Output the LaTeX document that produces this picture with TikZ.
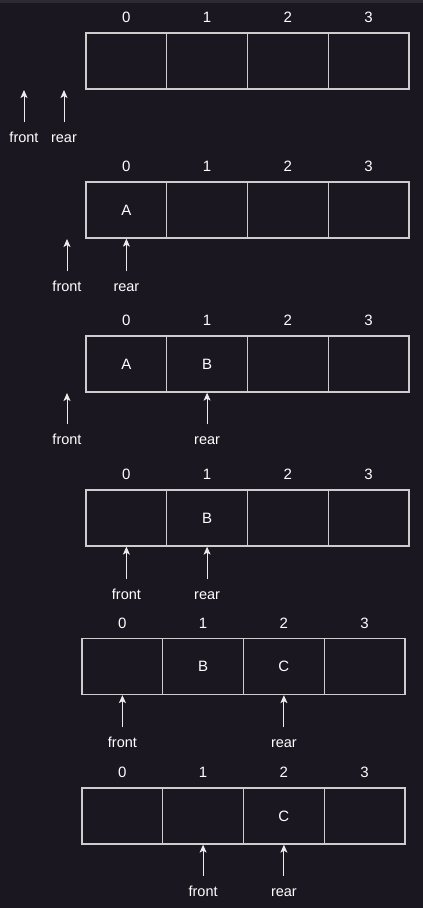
\documentclass[tikz,border=0pt]{standalone}
\usepackage{fontspec}
\setmainfont{Liberation Sans}
\usetikzlibrary{arrows.meta}
\definecolor{bgc}{RGB}{26,23,32}
\definecolor{topc}{RGB}{44,42,50}
\definecolor{linec}{RGB}{205,205,205}
\definecolor{arrc}{RGB}{235,235,235}
\begin{document}
\begin{tikzpicture}[x=1pt,y=-1pt,
  cell/.style={draw=linec,line width=1.3pt,minimum width=80.75pt,minimum height=56pt,inner sep=0pt,text=white,font=\fontsize{15}{15}\selectfont},
  idx/.style={text=white,inner sep=0pt,font=\fontsize{15}{15}\selectfont},
  lbl/.style={text=white,inner sep=0pt,text height=11pt,text depth=4pt,font=\fontsize{14.5}{15}\selectfont},
  arr/.style={draw=arrc,line width=1pt,-{Stealth[length=8pt,width=7pt,inset=2pt]},shorten <=9pt}]
\fill[bgc] (0,0) rectangle (423,908);
\fill[topc] (0,0) rectangle (423,3);
% rows: name / x offset / y center
\foreach \r/\xo/\yc/\a/\b/\c in {1/0/61/{}/{}/{},2/0/210/A/{}/{},3/0/364/A/B/{},4/0/518/{}/B/{},5/-4/666.5/{}/B/C,6/-4/816/{}/{}/C}{
  \node[cell] (c\r0) at (126.4+\xo,\yc) {\a};
  \node[cell] (c\r1) at (207.1+\xo,\yc) {\b};
  \node[cell] (c\r2) at (287.9+\xo,\yc) {\c};
  \node[cell] (c\r3) at (368.6+\xo,\yc) {};
  \foreach \i in {0,1,2,3}{
    \node[idx] (i\r\i) at ([yshift=15pt]c\r\i.north) {\i};
  }
}
% panel 1
\node[lbl] (f1) at (24,139) {front};
\node[lbl] (r1) at (64,139) {rear};
\coordinate (tf1) at (24,90);
\coordinate (tr1) at (64,90);
\draw[arr] (f1.north) -- (tf1);
\draw[arr] (r1.north) -- (tr1);
% panel 2
\node[lbl] (f2) at (67,288) {front};
\node[lbl] (r2) at (126.4,288) {rear};
\coordinate (tf2) at (67,239);
\draw[arr] (f2.north) -- (tf2);
\draw[arr] (r2.north) -- (c20.south);
% panel 3
\node[lbl] (f3) at (67,441) {front};
\node[lbl] (r3) at (207.1,441) {rear};
\coordinate (tf3) at (67,393);
\draw[arr] (f3.north) -- (tf3);
\draw[arr] (r3.north) -- (c31.south);
% panel 4
\node[lbl] (f4) at (126.4,596) {front};
\node[lbl] (r4) at (207.1,596) {rear};
\draw[arr] (f4.north) -- (c40.south);
\draw[arr] (r4.north) -- (c41.south);
% panel 5
\node[lbl] (f5) at (122.4,744) {front};
\node[lbl] (r5) at (283.9,744) {rear};
\draw[arr] (f5.north) -- (c50.south);
\draw[arr] (r5.north) -- (c52.south);
% panel 6
\node[lbl] (f6) at (203.1,893) {front};
\node[lbl] (r6) at (283.9,893) {rear};
\draw[arr] (f6.north) -- (c61.south);
\draw[arr] (r6.north) -- (c62.south);
\useasboundingbox (0,0) rectangle (423,908);
\end{tikzpicture}
\end{document}
